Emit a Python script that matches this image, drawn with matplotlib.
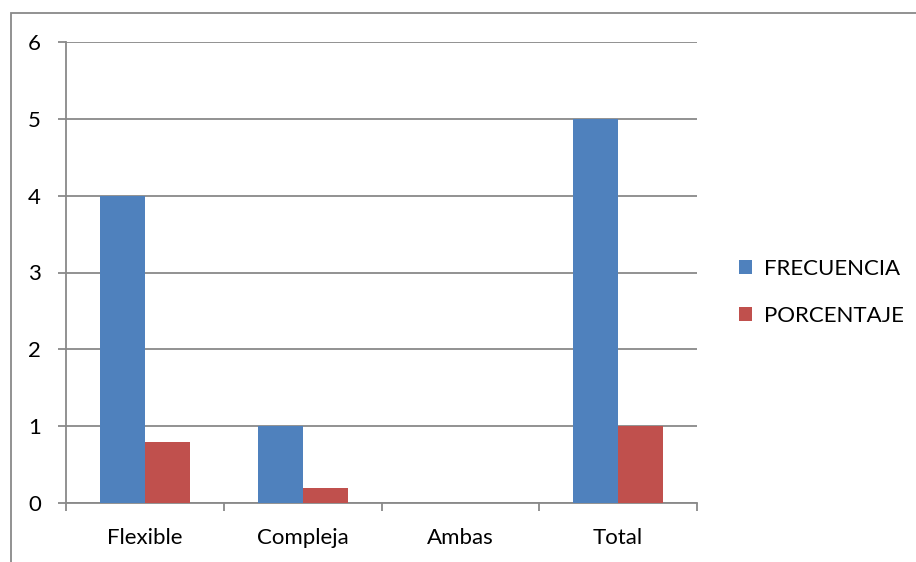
import matplotlib
matplotlib.use("Agg")
import matplotlib.pyplot as plt
from matplotlib.patches import Rectangle
import numpy as np

categorias = ["Flexible", "Compleja", "Ambas", "Total"]
frecuencia = [4, 1, 0, 5]
porcentaje = [0.8, 0.2, 0, 1]

plt.rcParams['font.family'] = ['Lato', 'DejaVu Sans']

gris = '#898989'
fig = plt.figure(figsize=(9.16, 5.62), dpi=100)
ax = fig.add_axes([66 / 916, 59 / 562, 631 / 916, 461 / 562])

x = np.arange(len(categorias))
ancho = 1 / 3.5
ax.bar(x - ancho / 2, frecuencia, ancho, color='#4F81BD', label='FRECUENCIA', zorder=3)
ax.bar(x + ancho / 2, porcentaje, ancho, color='#C0504D', label='PORCENTAJE', zorder=3)

ax.set_xlim(-0.5, len(categorias) - 0.5)
ax.set_ylim(0, 6)
ax.set_yticks(range(7))
ax.yaxis.grid(True, color=gris, linewidth=1.3, zorder=0)

ax.set_xticks(x)
ax.set_xticklabels(categorias)
ax.set_xticks(np.arange(-0.5, len(categorias)), minor=True)
ax.tick_params(axis='x', which='major', length=0, pad=18, labelsize=16)
ax.tick_params(axis='x', which='minor', length=6, width=1.3, color=gris, direction='out')
ax.tick_params(axis='y', length=6, width=1.3, color=gris, pad=12, labelsize=16)

for lado in ['top', 'right']:
    ax.spines[lado].set_visible(False)
for lado in ['left', 'bottom']:
    ax.spines[lado].set_color(gris)
    ax.spines[lado].set_linewidth(1.3)

ax.legend(loc='center left', bbox_to_anchor=(1.035, 0.457), frameon=False,
          fontsize=16, handlelength=0.6, handleheight=0.6, handletextpad=0.5,
          labelspacing=1.2)

# marco exterior del gráfico
fig.patches.append(Rectangle((11 / 916, -0.1), 1.2, (562 - 13) / 562 + 0.1,
                             transform=fig.transFigure, fill=False,
                             edgecolor=gris, linewidth=1.3))

fig.savefig('out.png', dpi=100)
